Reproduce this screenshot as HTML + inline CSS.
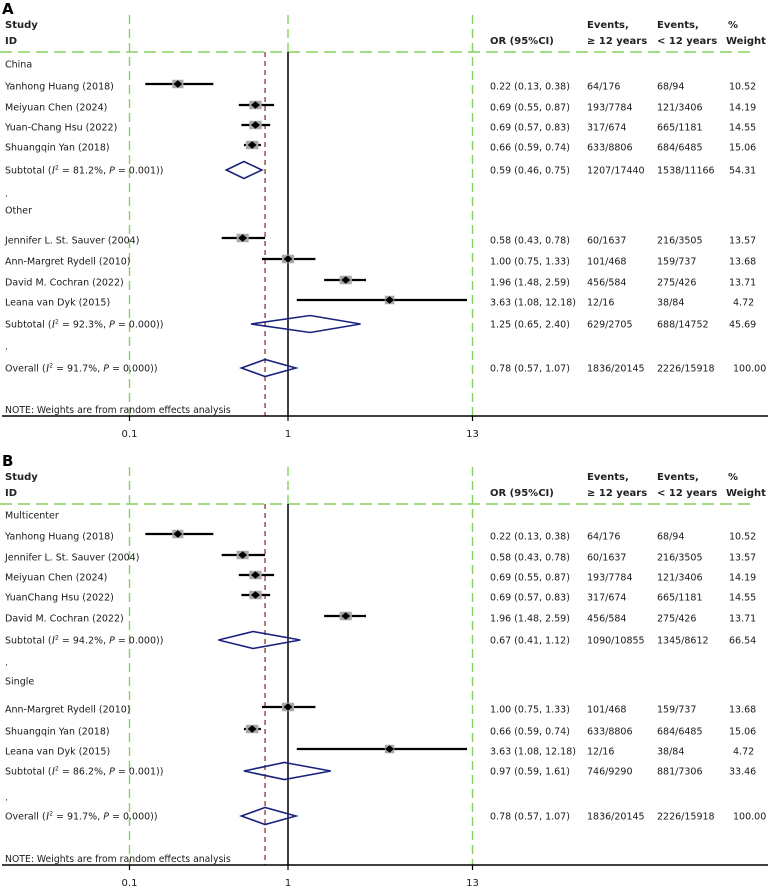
<!DOCTYPE html>
<html><head><meta charset="utf-8"><style>
html,body{margin:0;padding:0;background:#fff;}
svg{display:block;font-family:"DejaVu Sans","Liberation Sans",sans-serif;}
</style></head><body>
<svg id="chart" width="771" height="889" viewBox="0 0 771 889" xmlns="http://www.w3.org/2000/svg"></svg>
<script>
// ---- Panel A data ----
const aLabels = ["China","Yanhong Huang (2018)","Meiyuan Chen (2024)","Yuan-Chang Hsu (2022)","Shuangqin Yan (2018)","SUB:Subtotal  (|81.2%|0.001)",".","Other","Jennifer L. St. Sauver (2004)","Ann-Margret Rydell (2010)","David M. Cochran (2022)","Leana van Dyk (2015)","SUB:Subtotal (|92.3%|0.000)",".","SUB:Overall (|91.7%|0.000)"];
const aY = [64,86,107,127,147,170,193,210,240,261,282,302,324,346,368];
const aOR = [null,0.22,0.69,0.69,0.66,0.59,null,null,0.58,1.00,1.96,3.63,1.25,null,0.78];
const aLo = [null,0.13,0.55,0.57,0.59,0.46,null,null,0.43,0.75,1.48,1.08,0.65,null,0.57];
const aHi = [null,0.38,0.87,0.83,0.74,0.75,null,null,0.78,1.33,2.59,12.18,2.40,null,1.07];
const aEv1 = ["","64/176","193/7784","317/674","633/8806","1207/17440","","","60/1637","101/468","456/584","12/16","629/2705","","1836/20145"];
const aEv2 = ["","68/94","121/3406","665/1181","684/6485","1538/11166","","","216/3505","159/737","275/426","38/84","688/14752","","2226/15918"];
const aW = [null,10.52,14.19,14.55,15.06,54.31,null,null,13.57,13.68,13.71,4.72,45.69,null,100.00];
// ---- Panel B data ----
const bLabels = ["Multicenter","Yanhong Huang (2018)","Jennifer L. St. Sauver (2004)","Meiyuan Chen (2024)","YuanChang Hsu (2022)","David M. Cochran (2022)","SUB:Subtotal (|94.2%|0.000)",".","Single","Ann-Margret Rydell (2010)","Shuangqin Yan (2018)","Leana van Dyk (2015)","SUB:Subtotal (|86.2%|0.001)",".","SUB:Overall (|91.7%|0.000)"];
const bY = [515,536,557,577,597,618,640,662,681,709,731,751,771,797,816];
const bOR = [null,0.22,0.58,0.69,0.69,1.96,0.67,null,null,1.00,0.66,3.63,0.97,null,0.78];
const bLo = [null,0.13,0.43,0.55,0.57,1.48,0.41,null,null,0.75,0.59,1.08,0.59,null,0.57];
const bHi = [null,0.38,0.78,0.87,0.83,2.59,1.12,null,null,1.33,0.74,12.18,1.61,null,1.07];
const bEv1 = ["","64/176","60/1637","193/7784","317/674","456/584","1090/10855","","","101/468","633/8806","12/16","746/9290","","1836/20145"];
const bEv2 = ["","68/94","216/3505","121/3406","665/1181","275/426","1345/8612","","","159/737","684/6485","38/84","881/7306","","2226/15918"];
const bW = [null,10.52,13.57,14.19,14.55,13.71,66.54,null,null,13.68,15.06,4.72,33.46,null,100.00];
const tickVals = [0.1,1,13];
const tickLabels = ["0.1","1","13"];
const overallOR = 0.78;

const NS="http://www.w3.org/2000/svg";
const svg=document.getElementById('chart');
function mk(tag,attrs,parent){const e=document.createElementNS(NS,tag);for(const k in attrs)e.setAttribute(k,attrs[k]);(parent||svg).appendChild(e);return e;}
function scale(v){const l=Math.log10(v);const a=l<0?158.5:168;return 288+a*Math.sign(l)*Math.pow(Math.abs(l),0.868);}
const CLIPMAX=467;
const GREEN="#86cf62";
const TXT="#1a1a1a";

function panel(off,letter,labels,ys,or,lo,hi,ev1,ev2,w,axisY){
  const g=mk('g',{});
  
  
  let t=mk('text',{x:2,y:off+14,'font-size':15,'font-weight':'bold'},g);t.textContent=letter;
  
  const hy1=off+28, hy2=off+44;
  [[5,hy1,"Study"],[5,hy2,"ID"],[490,hy2,"OR (95%CI)"],[587,hy1,"Events,"],[587,hy2,"\u2265 12 years"],[657,hy1,"Events,"],[657,hy2,"< 12 years"],[728,hy1,"%"],[726,hy2,"Weight"]].forEach(h=>{
    const e=mk('text',{x:h[0],y:h[1],'font-size':10,'font-weight':'bold',fill:'#222'},g);e.textContent=h[2];
    
  });
  const x01=scale(tickVals[0]), x1=scale(tickVals[1]), x13=scale(tickVals[2]);
  const hd=off+52;
  let l=mk('line',{x1:0,y1:hd,x2:755,y2:hd,stroke:GREEN,'stroke-width':1.6,'stroke-dasharray':'12,6'},g);
  
  [x01,x13].forEach(x=>{const v=mk('line',{x1:x,y1:off+15,x2:x,y2:axisY,stroke:GREEN,'stroke-width':1.4,'stroke-dasharray':'9,5'},g);
    });
  l=mk('line',{x1:x1,y1:off+15,x2:x1,y2:hd,stroke:GREEN,'stroke-width':1.4,'stroke-dasharray':'9,5'},g);
  
  l=mk('line',{x1:x1,y1:hd,x2:x1,y2:axisY,stroke:'#000','stroke-width':1.5},g);
  
  const xo=scale(overallOR);
  l=mk('line',{x1:xo,y1:hd,x2:xo,y2:axisY,stroke:'#8b2323','stroke-width':1.2,'stroke-dasharray':'5,4'},g);
  
  labels.forEach((lab,i)=>{
    const y=ys[i]+off;
    const isSub=lab.startsWith("SUB:");
    const te=mk('text',{x:5,y:y+3.5,'font-size':9.5,fill:TXT},g);
    
    
    if(isSub){
      const p=lab.slice(4).split('|');
      te.appendChild(document.createTextNode(p[0]));
      const it=mk('tspan',{'font-style':'italic','font-family':'"Liberation Serif",serif','font-size':10.5},te);it.textContent='I';
      const sp=mk('tspan',{'font-size':6,dy:-4},te);sp.textContent='2';
      const r=mk('tspan',{dy:4},te);r.textContent=' = '+p[1]+', ';
      const pp=mk('tspan',{'font-style':'italic'},te);pp.textContent='P';
      const r2=mk('tspan',{},te);r2.textContent=' = '+p[2]+')';
    } else te.textContent=lab;
    if(or[i]==null) return;
    const orTxt=or[i].toFixed(2)+' ('+lo[i].toFixed(2)+', '+hi[i].toFixed(2)+')';
    [[490,orTxt,'or-ci-value'],[587,ev1[i],'events-12plus'],[657,ev2[i],'events-under12'],[w[i]>=100?733:(w[i]<10?733:729),w[i].toFixed(2),'weight-value']].forEach(c=>{
      const e=mk('text',{x:c[0],y:y+3.5,'font-size':9.5,fill:TXT},g);e.textContent=c[1];
      
    });
    const xl=scale(lo[i]), xh=Math.min(scale(hi[i]),CLIPMAX), xm=scale(or[i]);
    if(isSub){
      const d=mk('polygon',{points:`${xl},${y} ${xm},${y-8.5} ${xh},${y} ${xm},${y+8.5}`,fill:'none',stroke:'#1a237e','stroke-width':1.6},g);
      
    } else {
      const my=y-2;
      const c=mk('line',{x1:xl,y1:my,x2:xh,y2:my,stroke:'#000','stroke-width':2.2},g);
      
      const sw=8+w[i]*0.3, sh=8.5;
      const sq=mk('rect',{x:xm-sw/2,y:my-sh/2,width:sw,height:sh,fill:'#a9a9a9'},g);
      
      const dm=mk('polygon',{points:`${xm-4.5},${my} ${xm},${my-3.8} ${xm+4.5},${my} ${xm},${my+3.8}`,fill:'#000'},g);
      
    }
  });
  const n=mk('text',{x:5,y:axisY-3,'font-size':9.3,fill:TXT},g);n.textContent='NOTE: Weights are from random effects analysis';
  
  const ax=mk('line',{x1:2,y1:axisY,x2:768,y2:axisY,stroke:'#000','stroke-width':1.4},g);
  
  tickVals.forEach((v,k)=>{
    const x=scale(v);
    const tk=mk('line',{x1:x,y1:axisY,x2:x,y2:axisY+5,stroke:'#000','stroke-width':1.2},g);
    
    const tl=mk('text',{x:x,y:axisY+21,'font-size':10,'text-anchor':'middle',fill:TXT},g);tl.textContent=tickLabels[k];
    
  });
}
panel(0,"A",aLabels,aY,aOR,aLo,aHi,aEv1,aEv2,aW,416);
panel(452,"B",bLabels,bY.map(v=>v-452),bOR,bLo,bHi,bEv1,bEv2,bW,865);
</script>
</body></html>
